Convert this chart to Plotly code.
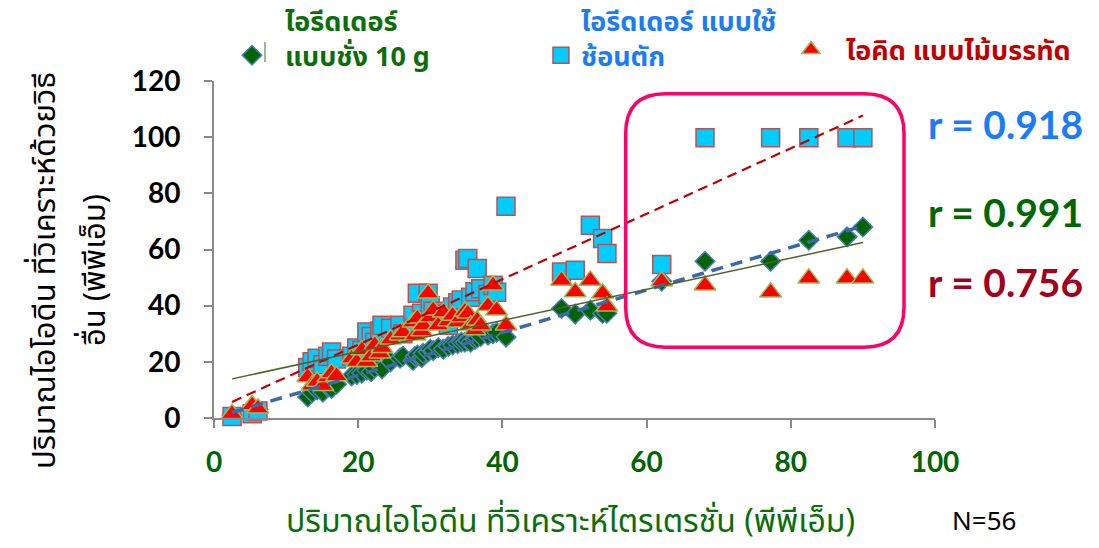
import numpy as np
import plotly.graph_objects as go

# ---- data ----
x_ref = [2.5, 5.3, 6.1,
         13.0, 13.6, 14.3, 15.1, 15.8, 16.3, 17.0, 19.1, 19.8, 20.5, 21.2, 21.8, 22.3, 23.0, 23.3, 24.5,
         25.8, 26.2, 27.6, 27.9, 28.2, 28.8, 29.0, 29.7, 30.0, 30.4, 31.1, 31.8, 32.5, 33.1, 33.8, 34.3,
         34.8, 35.2, 35.6, 36.2, 36.5, 37.0, 38.0, 38.7, 39.2, 40.5,
         48.2, 50.1, 52.2, 53.9, 54.5,
         62.1, 68.1, 77.2, 82.5, 87.8, 90.0]
y_weigh = [1.0, 2.5, 3.0,
           7.5, 9.0, 10.0, 9.2, 11.0, 10.5, 12.0, 15.0, 15.5, 16.0, 17.0, 16.5, 17.8, 18.8, 17.5, 20.0,
           21.3, 22.0, 20.5, 22.0, 22.4, 21.5, 23.0, 23.5, 24.5, 24.0, 25.0, 24.5, 25.5, 26.0, 26.5, 27.0,
           27.0, 27.5, 27.0, 28.0, 28.5, 29.0, 29.5, 30.0, 30.5, 28.8,
           39.0, 37.0, 38.4, 37.2, 37.3,
           48.7, 55.8, 55.8, 63.3, 64.5, 68.0]
y_spoon = [0.5, 1.5, 2.5,
           18.0, 20.0, 21.3, 19.0, 22.0, 23.5, 21.0, 22.0, 24.9, 24.0, 30.6, 29.0, 27.0, 31.0, 33.0, 32.0,
           33.0, 30.0, 36.6, 32.0, 44.4, 37.3, 35.0, 44.4, 40.0, 38.0, 36.0, 37.0, 33.0, 39.5, 41.0, 42.0,
           56.2, 56.8, 43.0, 45.0, 53.2, 46.0, 44.0, 47.3, 44.8, 75.4,
           52.0, 52.6, 68.6, 63.9, 58.6,
           54.7, 99.8, 99.8, 99.8, 99.8, 99.8]
y_ruler = [1.5, 4.6, 3.5,
           14.6, 11.7, 13.0, 11.5, 14.6, 16.0, 15.0, 21.3, 20.0, 24.2, 20.0, 22.0, 26.0, 23.1, 25.0, 28.0,
           29.5, 30.6, 34.1, 29.5, 35.5, 31.0, 33.0, 44.4, 36.0, 38.4, 33.0, 37.7, 34.5, 36.5, 34.1, 36.0,
           38.0, 37.3, 33.0, 31.3, 34.8, 33.0, 40.0, 47.3, 38.4, 33.0,
           49.0, 44.9, 49.0, 44.4, 39.8,
           48.7, 47.3, 44.8, 49.8, 49.8, 49.8]

names = ["ไอรีดเดอร์<br>แบบชั่ง 10 g", "ไอรีดเดอร์ แบบใช้<br>ช้อนตัก", "ไอคิด แบบไม้บรรทัด"]
r_labels = ["r = 0.918", "r = 0.991", "r = 0.756"]
x_ticks = [0, 20, 40, 60, 80, 100]
y_ticks = [0, 20, 40, 60, 80, 100, 120]

THAI = "Tahoma, 'Noto Sans Thai', 'Leelawadee UI', 'Noto Sans', sans-serif"
NUM = "Lato, 'Open Sans', sans-serif"
GREEN = "#0a6e0a"
BLUE = "#1a7df5"
RED = "#c00000"

fig = go.Figure()

fig.add_trace(go.Scatter(
    x=x_ref, y=y_weigh, mode="markers", name=f"<b><span style='color:{GREEN}'>{names[0]}</span></b>",
    marker=dict(symbol="diamond", size=15, color="#006400", line=dict(color="#4a7fc0", width=1.5)),
    cliponaxis=False, legend="legend"))
fig.add_trace(go.Scatter(
    x=x_ref, y=y_spoon, mode="markers", name=f"<b><span style='color:{BLUE}'>{names[1]}</span></b>",
    marker=dict(symbol="square", size=18, color="#00ccff", line=dict(color="#c0504d", width=1.5)),
    cliponaxis=False, legend="legend2"))
fig.add_trace(go.Scatter(
    x=x_ref, y=y_ruler, mode="markers", name=f"<b><span style='color:{RED}'>{names[2]}</span></b>",
    marker=dict(symbol="triangle-up", size=19, color="#ff0000", line=dict(color="#9bbb59", width=1.5)),
    cliponaxis=False, legend="legend3"))

# trend lines from the data
xs = np.array(x_ref)
xl = np.linspace(xs.min(), xs.max(), 50)
for ys, col, w, dash in [(y_spoon, "#c00000", 2.2, "10px,6px"),
                         (y_weigh, "#3a68a8", 3.5, "12px,8px"),
                         (y_ruler, "#4f6228", 1.5, "solid")]:
    c = np.polyfit(xs, np.array(ys), 1)
    fig.add_trace(go.Scatter(x=xl, y=np.polyval(c, xl), mode="lines", showlegend=False,
                             line=dict(color=col, width=w, dash=dash), hoverinfo="skip"))

# highlight box (rounded rectangle)
x0, x1, y0, y1, rx, ry = 57.1, 95.7, 25.2, 115.5, 5.5, 14.2
path = (f"M {x0+rx},{y1} L {x1-rx},{y1} Q {x1},{y1} {x1},{y1-ry} L {x1},{y0+ry} "
        f"Q {x1},{y0} {x1-rx},{y0} L {x0+rx},{y0} Q {x0},{y0} {x0},{y0+ry} "
        f"L {x0},{y1-ry} Q {x0},{y1} {x0+rx},{y1} Z")
fig.add_shape(type="path", path=path, xref="x", yref="y", line=dict(color="#ff0066", width=3.5))
# small legend tick
fig.add_shape(type="line", xref="paper", yref="paper", x0=0.0707, x1=0.0707, y0=1.056, y1=1.116,
              line=dict(color="#2e7d2e", width=1))

def A(text, x, y, size, color, weight="normal", angle=0, family=THAI):
    return dict(text=text, x=x, y=y, xref="paper", yref="paper", showarrow=False,
                xanchor="center", yanchor="middle", textangle=angle,
                font=dict(family=family, size=size, color=color, weight=weight))

ann = []
for txt, col, yp in [(r_labels[0], "#1a7df5", 0.872), (r_labels[1], "#006600", 0.611), (r_labels[2], "#a0001e", 0.403)]:
    ann.append(A(txt, 1.098, yp, 39, col, "bold", family=NUM))
ann.append(A("ปริมาณไอโอดีน ที่วิเคราะห์ไตรเตรชั่น (พีพีเอ็ม)", 0.495, -0.31, 32, GREEN))
ann.append(A("N=56", 1.068, -0.309, 26, "black"))
ann.append(A("ปริมาณไอโอดีน ที่วิเคราะห์ด้วยวิธี", -0.2344, 0.439, 31, "black", angle=-90))
ann.append(A("อื่น (พีพีเอ็ม)", -0.165, 0.439, 31, "black", angle=-90))

def L(x, y, iw):
    return dict(x=x, y=y, orientation="v", xanchor="left", yanchor="top", bgcolor="rgba(0,0,0,0)",
                font=dict(family=THAI, size=27), valign="bottom", itemwidth=iw)

fig.update_layout(
    width=1099, height=548,
    margin=dict(l=214, r=164, t=81, b=130, autoexpand=False),
    paper_bgcolor="white", plot_bgcolor="white",
    showlegend=True,
    legend=L(0.0069, 1.252, 56),
    legend2=L(0.4535, 1.252, 30),
    legend3=L(0.7795, 1.165, 60),
    annotations=ann,
    xaxis=dict(range=[0, 100], tickvals=x_ticks, showgrid=False, zeroline=False,
               showline=True, linecolor="#8a8a8a", linewidth=2, ticks="outside", ticklen=8,
               tickcolor="#8a8a8a", tickwidth=1.5, ticklabelstandoff=10,
               tickfont=dict(family=NUM, size=28, color="#006400", weight="bold")),
    yaxis=dict(range=[0, 120], tickvals=y_ticks, showgrid=False, zeroline=False,
               showline=True, linecolor="#8a8a8a", linewidth=2, ticks="outside", ticklen=8,
               tickcolor="#8a8a8a", tickwidth=1.5, ticklabelstandoff=18,
               tickfont=dict(family=NUM, size=28, color="black", weight="bold")),
)

fig.write_html("out.html")
